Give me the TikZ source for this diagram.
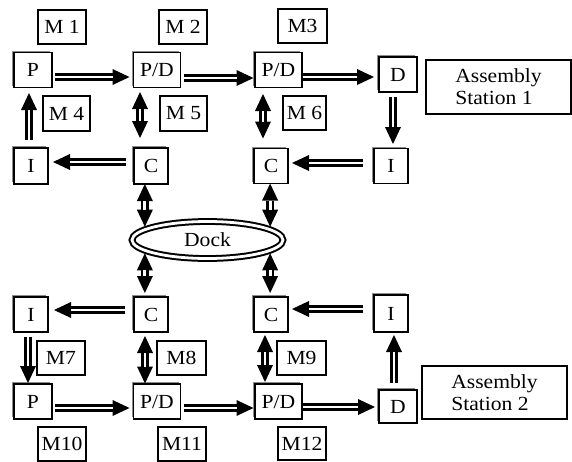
\documentclass[tikz,border=0pt]{standalone}
\usepackage{fontspec}
\setmainfont[FakeStretch=1.08]{Liberation Serif}
\usetikzlibrary{arrows.meta,shapes.geometric,shadows}
\begin{document}
\begin{tikzpicture}[x=1pt,y=-1pt,
  sbox/.style={draw, line width=1.6pt, fill=white, inner sep=0pt, outer sep=0pt,
    font=\fontsize{20}{22}\selectfont,
    general shadow={fill=black!45, shadow xshift=-1.8pt, shadow yshift=1.8pt}},
  mbox/.style={draw, line width=2.1pt, fill=white, inner sep=0pt, outer sep=0pt,
    minimum width=48pt, minimum height=34pt, font=\fontsize{20}{22}\selectfont},
  abox/.style={draw, line width=2.3pt, inner sep=0pt, outer sep=0pt,
    minimum width=145pt, align=left, font=\fontsize{20}{22}\selectfont},
  arr/.style={line width=7.4pt, -{Triangle[length=17pt,width=16pt,line width=0pt]},
    postaction={draw=white, line width=2.8pt, -, shorten >=17pt}},
  barr/.style={line width=7.4pt, {Triangle[length=17pt,width=16pt,line width=0pt]}-{Triangle[length=17pt,width=16pt,line width=0pt]},
    postaction={draw=white, line width=2.8pt, -, shorten >=17pt, shorten <=17pt}},
]
\useasboundingbox (0,0) rectangle (572,461);

% ---------- top half ----------
\node[mbox] (M1) at (62,27) {M 1};
\node[mbox] (M2) at (183,27) {M 2};
\node[mbox, minimum width=49pt] (M3) at (302.5,26) {M3};
\node[sbox, minimum width=38pt, minimum height=35pt] (P1) at (33,70) {P};
\node[sbox, minimum width=47pt, minimum height=35pt] (PD1) at (157,70) {P/D};
\node[sbox, minimum width=47pt, minimum height=35pt] (PD2) at (278.5,70) {P/D};
\node[sbox, minimum width=38pt, minimum height=35pt] (D1) at (398,74.5) {D};
\node[abox, minimum height=54pt] (AS1) at (498.5,87) {Assembly\\Station 1};
\node[mbox, minimum width=47pt, minimum height=35pt] (M4) at (66.5,113.5) {M 4};
\node[mbox, minimum width=47pt, minimum height=35pt] (M5) at (183.5,113.5) {M 5};
\node[mbox, minimum width=43pt] (M6) at (304.5,113) {M 6};
\node[sbox, minimum width=34pt, minimum height=36pt] (I1) at (31,166) {I};
\node[sbox, minimum width=34pt, minimum height=36pt] (C1) at (151,166) {C};
\node[sbox, minimum width=34pt, minimum height=35pt] (C2) at (271,166) {C};
\node[sbox, minimum width=34pt, minimum height=35pt] (I2) at (391,166) {I};

% ---------- dock ----------
\node[ellipse, draw, double, line width=2pt, double distance=2.8pt, inner sep=0pt, outer sep=3.4pt,
      minimum width=151pt, minimum height=37pt, font=\fontsize{20}{22}\selectfont] (Dock) at (207.5,240) {Dock};

% ---------- bottom half ----------
\node[sbox, minimum width=34pt, minimum height=35pt] (I3) at (31,314.5) {I};
\node[sbox, minimum width=34pt, minimum height=35pt] (C3) at (151,314.5) {C};
\node[sbox, minimum width=34pt, minimum height=35pt] (C4) at (271,314.5) {C};
\node[sbox, minimum width=34pt, minimum height=37pt] (I4) at (391,313.5) {I};
\node[mbox] (M7) at (61,358) {M7};
\node[mbox, minimum width=49pt] (M8) at (181.5,358) {M8};
\node[mbox, minimum width=49pt] (M9) at (301.5,358) {M9};
\node[sbox, minimum width=38pt, minimum height=35pt] (P2) at (33,401.5) {P};
\node[sbox, minimum width=47pt, minimum height=35pt] (PD3) at (157,401.5) {P/D};
\node[sbox, minimum width=47pt, minimum height=35pt] (PD4) at (278.5,401.5) {P/D};
\node[sbox, minimum width=38pt, minimum height=33pt] (D2) at (398,406.5) {D};
\node[abox, minimum height=53pt] (AS2) at (494.5,392.5) {Assembly\\Station 2};
\node[mbox] (M10) at (62,444) {M10};
\node[mbox] (M11) at (182,444) {M11};
\node[mbox, minimum height=33pt] (M12) at (302,443.5) {M12};

% ---------- top connectors ----------
\draw[arr] ([xshift=3pt,yshift=-7pt]P1.east) -- ([xshift=-4pt,yshift=-7pt]PD1.west);
\draw[arr] ([xshift=3pt,yshift=-8pt]PD1.east) -- ([xshift=-1.5pt,yshift=-8pt]PD2.west);
\draw[arr] ([xshift=1pt,yshift=-7pt]PD2.east) -- ([xshift=-5pt,yshift=-2.5pt]D1.west);
\draw[arr] ([xshift=-8pt,yshift=4pt]C1.west) -- ([xshift=5pt,yshift=4pt]I1.east);
\draw[arr] ([xshift=-11pt,yshift=3pt]I2.west) -- ([xshift=4pt,yshift=3pt]C2.east);
\draw[arr] ([xshift=-2pt,yshift=8pt]I1.north) -- ([xshift=-4pt,yshift=-5.5pt]P1.south);
\draw[barr] ([xshift=-17pt,yshift=-4.5pt]PD1.south) -- ([xshift=-11pt,yshift=10pt]C1.north);
\draw[barr] ([xshift=-15.5pt,yshift=-6.5pt]PD2.south) -- ([xshift=-8pt,yshift=10pt]C2.north);
\draw[arr] ([xshift=-5pt,yshift=-5pt]D1.south) -- ([xshift=2pt,yshift=4.5pt]I2.north);

% ---------- dock connectors ----------
\coordinate (c3t) at ([yshift=4pt]C3.north);
\coordinate (c4t) at ([yshift=4pt]C4.north);
\draw[barr] (Dock.168 |- C1.south) -- (Dock.168);
\draw[barr] (Dock.12 |- C2.south) -- (Dock.12);
\draw[barr] (Dock.192) -- (Dock.192 |- c3t);
\draw[barr] (Dock.348) -- (Dock.348 |- c4t);

% ---------- bottom connectors ----------
\draw[arr] ([xshift=-9pt,yshift=4.5pt]C3.west) -- ([xshift=6pt,yshift=4.5pt]I3.east);
\draw[arr] ([xshift=-11pt,yshift=4.5pt]I4.west) -- ([xshift=4pt,yshift=5.5pt]C4.east);
\draw[arr] ([xshift=-3pt,yshift=-5pt]I3.south) -- ([xshift=-5pt,yshift=1pt]P2.north);
\draw[barr] ([xshift=-6pt,yshift=-4pt]C3.south) -- ([xshift=-12pt,yshift=0.5pt]PD3.north);
\draw[barr] ([xshift=-6pt,yshift=-3pt]C4.south) -- ([xshift=-13.5pt,yshift=2pt]PD4.north);
\draw[arr] ([xshift=-4pt,yshift=7pt]D2.north) -- ([xshift=3pt,yshift=-3pt]I4.south);
\draw[arr] ([xshift=3pt,yshift=-6.5pt]P2.east) -- ([xshift=-4pt,yshift=-6.5pt]PD3.west);
\draw[arr] ([xshift=3pt,yshift=-6.5pt]PD3.east) -- ([xshift=-1.5pt,yshift=-6.5pt]PD4.west);
\draw[arr] ([xshift=1pt,yshift=-5.5pt]PD4.east) -- ([xshift=-4pt,yshift=-0.5pt]D2.west);
\end{tikzpicture}
\end{document}
